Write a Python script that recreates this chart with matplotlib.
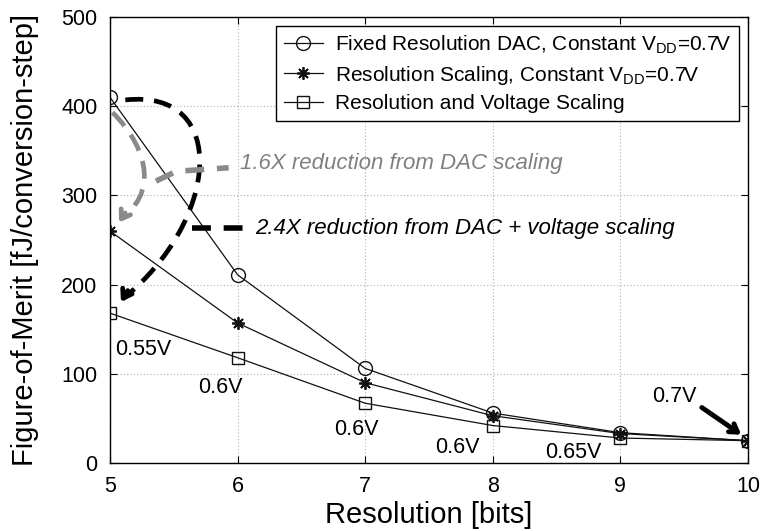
import matplotlib
matplotlib.use("Agg")
import matplotlib.pyplot as plt
from matplotlib.path import Path
from matplotlib.patches import PathPatch

plt.rcParams['font.family'] = ['Liberation Sans', 'DejaVu Sans']
plt.rcParams['mathtext.default'] = 'regular'

resolution = [5, 6, 7, 8, 9, 10]
fixed_dac = [410, 211, 106, 56, 34, 25]
res_scaling = [260, 157, 90, 53, 33, 25]
res_volt_scaling = [168, 118, 67, 42, 28, 25]
voltage_labels = ['0.55V', '0.6V', '0.6V', '0.6V', '0.65V', '0.7V']
voltage_label_pos = [(5.04, 127), (5.69, 85), (6.76, 38), (7.55, 17), (8.41, 12), (9.25, 74)]

series_names = [r'Fixed Resolution DAC, Constant V$_{DD}$=0.7V',
                r'Resolution Scaling, Constant V$_{DD}$=0.7V',
                'Resolution and Voltage Scaling']

fig = plt.figure(figsize=(7.61, 5.31), dpi=100)
ax = fig.add_axes([110/761, 1-463/531, (748-110)/761, (463-17)/531])

ax.plot(resolution, fixed_dac, '-o', color='#111111', lw=0.9, ms=10, mfc='none', mew=1.0, label=series_names[0])
ax.plot(resolution, res_scaling, '-', marker=(8, 2, 0), color='#111111', lw=0.9, ms=9, mfc='none', mew=1.3, label=series_names[1])
ax.plot(resolution, res_volt_scaling, '-s', color='#111111', lw=0.9, ms=8, mfc='none', mew=1.0, label=series_names[2])

ax.set_xlim(5, 10)
ax.set_ylim(0, 500)
ax.set_xticks(resolution)
ax.set_yticks([0, 100, 200, 300, 400, 500])
ax.grid(True, linestyle=(0, (1, 2)), color='#b0b0b0', lw=0.8)
ax.tick_params(direction='in', length=5, width=0.8, top=True, right=True, labelsize=15.5, pad=9)
for s in ax.spines.values():
    s.set_linewidth(1.0)
ax.set_xlabel('Resolution [bits]', fontsize=21, labelpad=3)
ax.set_ylabel('Figure-of-Merit [fJ/conversion-step]', fontsize=21, labelpad=16)

leg = ax.legend(loc='upper right', fontsize=15, frameon=True, fancybox=False,
                edgecolor='black', framealpha=1, handlelength=1.9, borderaxespad=0.45,
                labelspacing=0.37, handletextpad=0.55, borderpad=0.35)
leg.get_frame().set_linewidth(1.0)

# voltage labels
for lbl, (x, y) in zip(voltage_labels, voltage_label_pos):
    ax.text(x, y, lbl, fontsize=15.5, va='center', ha='left')

# 0.7V arrow
ax.annotate('', xy=(9.965, 30), xytext=(9.62, 64),
            arrowprops=dict(arrowstyle='->,head_length=0.55,head_width=0.35', color='black', lw=3.5))

# black dashed curved arrow (DAC + voltage scaling)
bverts = [(5.12, 407), (5.95, 420), (5.85, 270), (5.10, 184)]
bpath = Path(bverts, [Path.MOVETO, Path.CURVE4, Path.CURVE4, Path.CURVE4])
ax.add_patch(PathPatch(bpath, fill=False, ec='black', lw=3.4, ls=(0, (3.8, 2.3)), zorder=4))
ax.annotate('', xy=(5.075, 178), xytext=(5.15, 196),
            arrowprops=dict(arrowstyle='->,head_length=0.6,head_width=0.4', color='black', lw=3.4))
ax.plot([5.64, 6.10], [263, 263], color='black', lw=4.0, ls=(0, (3.4, 2.3)), zorder=4)
ax.text(6.14, 263, '2.4X reduction from DAC + voltage scaling', fontsize=16,
        style='italic', va='center', ha='left', color='black')

# gray dashed curved arrow (DAC scaling)
gray = '#8a8a8a'
gverts = [(5.02, 393), (5.32, 350), (5.36, 300), (5.08, 274)]
gpath = Path(gverts, [Path.MOVETO, Path.CURVE4, Path.CURVE4, Path.CURVE4])
ax.add_patch(PathPatch(gpath, fill=False, ec=gray, lw=3.4, ls=(0, (3.8, 2.3)), zorder=4))
ax.annotate('', xy=(5.06, 267), xytext=(5.13, 283),
            arrowprops=dict(arrowstyle='->,head_length=0.6,head_width=0.4', color=gray, lw=3.4))
ax.plot([5.36, 5.52, 5.93], [316, 327, 331], color=gray, lw=4.0, ls=(0, (3.4, 2.3)), zorder=4)
ax.text(6.02, 336, '1.6X reduction from DAC scaling', fontsize=16,
        style='italic', va='center', ha='left', color='#808080')

fig.savefig('out.png', dpi=100)
